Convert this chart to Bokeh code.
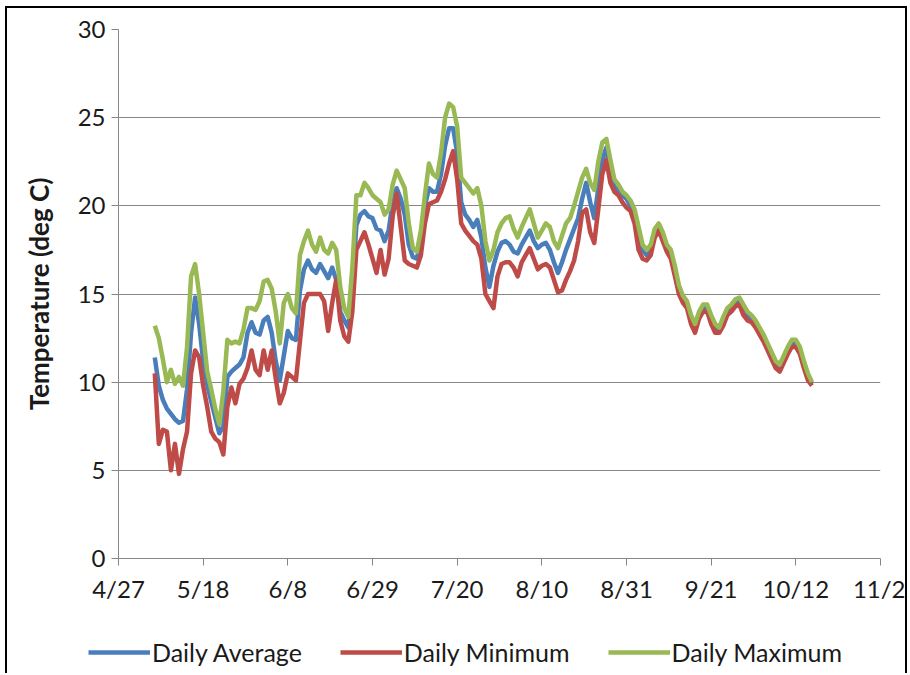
from bokeh.plotting import figure
from bokeh.models import Legend, LegendItem, Range1d
from bokeh.layouts import column
from bokeh.embed import file_html
from bokeh.resources import INLINE

# Days counted from 4/27; first reading is on day 9 (5/6)
start_day = 9

daily_max = [
    13.2, 12.5, 11.3, 10.0, 10.7, 9.9, 10.3, 9.8, 12.0, 16.0,
    16.7, 15.0, 12.8, 10.6, 9.6, 8.5, 7.6, 9.5, 12.4, 12.2,
    12.3, 12.2, 13.0, 14.2, 14.2, 14.1, 14.6, 15.7, 15.8, 15.3,
    14.0, 12.2, 14.5, 15.0, 14.2, 13.9, 17.2, 18.0, 18.6, 17.8,
    17.4, 18.2, 17.5, 17.3, 17.9, 17.5, 15.4, 14.2, 13.7, 16.5,
    20.6, 20.6, 21.3, 21.0, 20.6, 20.4, 20.2, 19.5, 19.8, 21.2,
    22.0, 21.5, 21.0, 19.0, 17.6, 17.4, 18.6, 20.6, 22.4, 21.8,
    21.6, 23.0, 25.0, 25.8, 25.6, 24.5, 21.6, 21.3, 21.0, 20.7,
    21.0, 20.0, 18.0, 16.9, 17.5, 18.5, 19.0, 19.3, 19.4, 18.7,
    18.2, 18.8, 19.3, 19.8, 19.0, 18.2, 18.6, 19.0, 18.8, 18.0,
    17.6, 18.3, 19.0, 19.3, 20.0, 20.8, 21.6, 22.1, 21.3, 20.9,
    22.5, 23.6, 23.8, 22.6, 21.5, 21.2, 20.8, 20.6, 20.3, 19.8,
    18.8, 17.8, 17.5, 17.8, 18.7, 19.0, 18.5, 17.8, 17.5, 16.6,
    15.5, 14.9, 14.6, 13.8, 13.3, 14.0, 14.4, 14.4, 13.8, 13.3,
    13.1, 13.7, 14.2, 14.4, 14.7, 14.8, 14.4, 14.0, 13.8, 13.5,
    13.1, 12.7, 12.2, 11.7, 11.2, 11.0, 11.5, 12.0, 12.4, 12.4,
    12.0, 11.2, 10.5, 10.0,
]

daily_avg = [
    11.4, 9.8, 9.0, 8.5, 8.2, 7.9, 7.7, 7.8, 9.6, 12.8,
    14.8, 13.3, 11.2, 9.9, 8.9, 8.0, 7.1, 7.5, 10.3, 10.6,
    10.8, 11.0, 11.4, 12.8, 13.4, 12.8, 12.7, 13.5, 13.7, 12.8,
    11.2, 10.1, 11.5, 12.9, 12.5, 12.4, 15.2, 16.4, 16.9, 16.4,
    16.2, 16.7, 16.3, 15.9, 16.5, 15.8, 14.0, 13.5, 13.1, 15.2,
    18.9, 19.5, 19.7, 19.4, 19.3, 18.7, 18.6, 18.0, 18.6, 20.2,
    21.0, 20.4, 19.5, 17.8, 17.1, 17.0, 18.0, 20.0, 21.0, 20.8,
    20.8, 21.8, 23.4, 24.4, 24.4, 23.0, 20.2, 19.5, 19.2, 18.8,
    19.2, 18.2, 16.5, 15.4, 16.6, 17.4, 17.9, 18.0, 17.8, 17.4,
    17.3, 17.8, 18.2, 18.6, 18.0, 17.6, 17.8, 17.9, 17.5, 16.8,
    16.2, 16.8, 17.5, 18.1, 18.7, 19.3, 20.4, 21.3, 20.2, 19.3,
    21.0, 22.6, 23.3, 22.0, 21.1, 20.9, 20.6, 20.4, 20.0, 19.5,
    18.5, 17.5, 17.2, 17.5, 18.4, 18.8, 18.2, 17.6, 17.2, 16.3,
    15.3, 14.7, 14.4, 13.5, 13.0, 13.8, 14.2, 14.2, 13.5, 13.0,
    12.9, 13.4, 14.0, 14.2, 14.5, 14.6, 14.1, 13.8, 13.6, 13.3,
    12.9, 12.5, 12.0, 11.5, 11.0, 10.8, 11.3, 11.8, 12.2, 12.2,
    11.8, 11.0, 10.3, 9.9,
]

daily_min = [
    10.5, 6.5, 7.3, 7.2, 5.0, 6.5, 4.8, 6.2, 7.2, 10.5,
    11.8, 11.4, 9.8, 8.6, 7.2, 6.8, 6.6, 5.9, 8.6, 9.7,
    8.8, 9.9, 10.2, 10.8, 11.8, 10.7, 10.4, 11.8, 10.7, 11.8,
    10.2, 8.8, 9.4, 10.5, 10.3, 10.1, 12.3, 14.5, 15.0, 15.0,
    15.0, 15.0, 14.6, 12.9, 14.5, 15.8, 13.5, 12.6, 12.3, 14.0,
    17.5, 18.0, 18.5, 17.8, 17.0, 16.2, 17.5, 16.1, 17.0, 19.4,
    20.7, 18.8, 16.9, 16.7, 16.6, 16.5, 17.2, 19.0, 20.1, 20.2,
    20.3, 20.8, 21.5, 22.4, 23.1, 21.5, 19.0, 18.6, 18.3, 18.0,
    17.8, 17.0, 15.0, 14.6, 14.2, 16.0, 16.7, 16.8, 16.8, 16.5,
    16.0, 16.8, 17.2, 17.6, 17.0, 16.4, 16.6, 16.7, 16.5, 15.8,
    15.1, 15.2, 15.8, 16.3, 16.9, 18.0, 19.6, 19.8, 18.5, 17.9,
    19.8, 21.8, 22.6, 21.3, 20.8, 20.6, 20.2, 19.9, 19.7, 19.0,
    17.5, 17.0, 16.9, 17.2, 18.2, 18.6, 18.0, 17.4, 17.0, 16.0,
    15.0, 14.5, 14.2, 13.3, 12.8, 13.6, 14.0, 14.0, 13.3, 12.8,
    12.8, 13.2, 13.8, 14.0, 14.3, 14.4, 13.8, 13.5, 13.4, 13.1,
    12.7, 12.3, 11.8, 11.3, 10.8, 10.6, 11.1, 11.6, 12.0, 12.0,
    11.6, 10.8, 10.1, 9.8,
]

tick_days = [0, 21, 42, 63, 84, 105, 126, 147, 168, 189]
tick_labels = ["4/27", "5/18", "6/8", "6/29", "7/20", "8/10", "8/31", "9/21", "10/12", "11/2"]
y_ticks = [0, 5, 10, 15, 20, 25, 30]
series_names = ["Daily Average", "Daily Minimum", "Daily Maximum"]
series_colors = ["#4A7EBB", "#BE4B48", "#98B954"]

days = list(range(start_day, start_day + len(daily_avg)))

FONT = "Lato"
GRID = "#868686"
TEXT = "#1a1a1a"
W = 898
LW = 4.5

p = figure(width=W, height=610, x_range=(0, 189), y_range=(0, 30),
           output_backend="svg", toolbar_location=None,
           min_border_left=111, min_border_right=25,
           min_border_top=21, min_border_bottom=60)
p.frame_align = False
p.outline_line_color = None
p.background_fill_color = "white"
p.border_fill_color = "white"

p.xgrid.visible = False
p.ygrid.grid_line_color = GRID
p.ygrid.grid_line_width = 1

p.yaxis.ticker = y_ticks
p.xaxis.ticker = tick_days
p.xaxis.major_label_overrides = {d: l for d, l in zip(tick_days, tick_labels)}

for ax in (p.xaxis[0], p.yaxis[0]):
    ax.axis_line_color = GRID
    ax.major_tick_line_color = GRID
    ax.major_tick_out = 7
    ax.major_tick_in = 0
    ax.minor_tick_line_color = None
    ax.major_label_text_font = FONT
    ax.major_label_text_font_size = "24px"
    ax.major_label_text_color = TEXT

p.xaxis.major_label_standoff = 8
p.yaxis.major_label_standoff = 6
p.yaxis.axis_label = "Temperature (deg C)"
p.yaxis.axis_label_text_font = FONT
p.yaxis.axis_label_text_font_style = "bold"
p.yaxis.axis_label_text_font_size = "26px"
p.yaxis.axis_label_text_color = TEXT
p.yaxis.axis_label_standoff = 20

for vals, col in zip([daily_avg, daily_min, daily_max], series_colors):
    p.line(days, vals, line_width=LW, line_color=col, line_join="round")

# Legend strip below the chart; its key lines reuse the series colours and
# sit outside the strip's (invisible) range so only the legend shows them.
leg = figure(width=W, height=57, output_backend="svg", toolbar_location=None,
             x_range=Range1d(0, 1), y_range=Range1d(0, 1),
             x_axis_location=None, y_axis_location=None,
             min_border_left=0, min_border_right=0, min_border_top=0, min_border_bottom=0)
leg.frame_align = False
leg.outline_line_color = None
leg.background_fill_color = "white"
leg.border_fill_color = "white"
leg.xgrid.visible = False
leg.ygrid.visible = False
keys = [leg.line([5, 6], [5, 5], line_width=LW, line_color=col) for col in series_colors]

legend = Legend(
    items=[LegendItem(label=n, renderers=[r]) for n, r in zip(series_names, keys)],
    orientation="horizontal", location=(81, 8),
    glyph_width=62, glyph_height=24, label_height=24, label_standoff=2,
    spacing=38, padding=0, margin=0,
    border_line_color=None, background_fill_alpha=0,
    label_text_font=FONT, label_text_font_size="25px", label_text_color=TEXT,
)
leg.add_layout(legend)

page = column(p, leg, spacing=0)
page.margin = (8, 0, 0, 7)
page.styles = {"box-shadow": "-2px -2px 0 0 black, 2px -2px 0 0 black"}

open("out.html", "w").write(file_html(page, INLINE))
